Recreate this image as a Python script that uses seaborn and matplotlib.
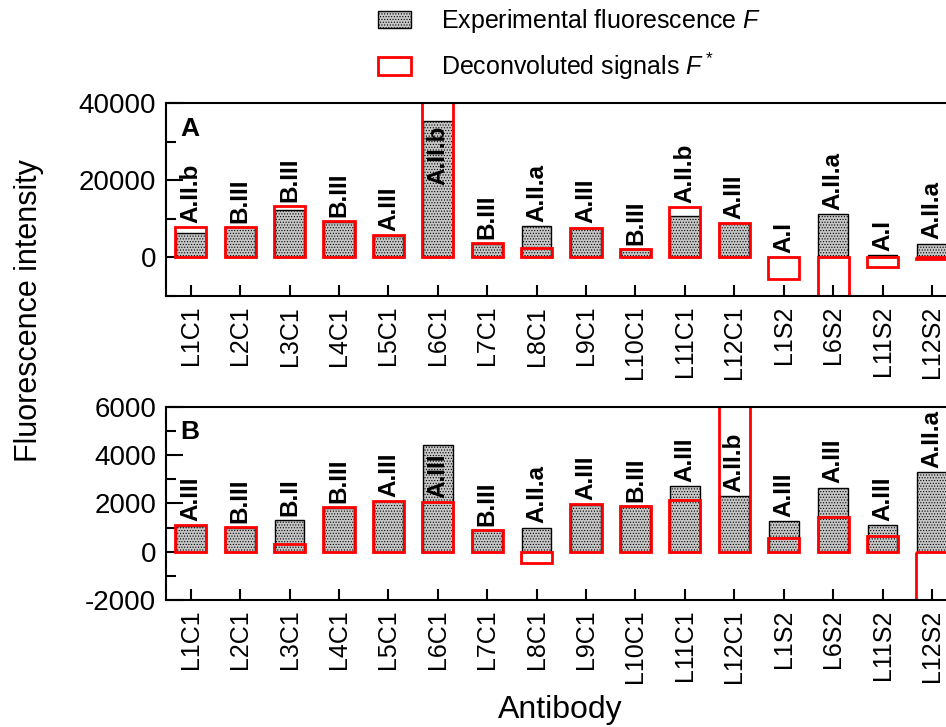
import seaborn as sns
import matplotlib.pyplot as plt
import matplotlib.patches as mpatches
from matplotlib.ticker import MultipleLocator
import pandas as pd

antibodies = ['L1C1', 'L2C1', 'L3C1', 'L4C1', 'L5C1', 'L6C1', 'L7C1', 'L8C1',
              'L9C1', 'L10C1', 'L11C1', 'L12C1', 'L1S2', 'L6S2', 'L11S2', 'L12S2']

# panel A
exp_a = [6400, 7800, 12200, 9300, 5600, 35400, 3600, 8100,
         7700, 2100, 10700, 8900, 0, 11300, 600, 3600]
dec_a = [7800, 7900, 13200, 9400, 5700, 48000, 3700, 2500,
         7750, 2150, 13100, 9000, -5700, -14000, -2400, -400]
cls_a = ['A.II.b', 'B.III', 'B.III', 'B.III', 'A.III', 'A.II.b', 'B.III', 'A.II.a',
         'A.III', 'B.III', 'A.II.b', 'A.III', 'A.I', 'A.II.a', 'A.I', 'A.II.a']

# panel B
exp_b = [1050, 1000, 1300, 1800, 2100, 4420, 900, 1000,
         1950, 1870, 2730, 2290, 1270, 2650, 1100, 3310]
dec_b = [1100, 1030, 300, 1830, 2110, 2060, 910, -470,
         1960, 1880, 2120, 7500, 550, 1420, 630, -3000]
cls_b = ['A.III', 'B.III', 'B.II', 'B.III', 'A.III', 'A.III', 'B.III', 'A.II.a',
         'A.III', 'B.III', 'A.III', 'A.II.b', 'A.III', 'A.III', 'A.III', 'A.II.a']

sns.set_style('ticks')
plt.rcParams['font.family'] = ['Liberation Sans', 'DejaVu Sans']
plt.rcParams['mathtext.fontset'] = 'custom'
plt.rcParams['mathtext.rm'] = 'Liberation Sans'
plt.rcParams['mathtext.it'] = 'Liberation Sans:italic'
plt.rcParams['hatch.linewidth'] = 0.5
plt.rcParams['axes.linewidth'] = 1.5
plt.rcParams['axes.unicode_minus'] = False
for k in ['text.color', 'axes.labelcolor', 'axes.edgecolor', 'xtick.color', 'ytick.color']:
    plt.rcParams[k] = 'black'

GREY = '#c6c6c6'
DOTS = '......'


def label_base(f, fs, lo, hi):
    # put the class label on the highest bar top that leaves room for the text
    room = 0.28 * (hi - lo)
    for v in sorted([f, fs], reverse=True):
        if v + room <= hi:
            return max(v, 0)
    return f / 2


def panel(ax, exp, dec, cls, lo, hi, major, letter):
    df = pd.DataFrame({'antibody': antibodies, 'F': exp, 'Fstar': dec})
    sns.barplot(data=df, x='antibody', y='F', color=GREY, saturation=1,
                width=0.6, edgecolor='black', linewidth=1, errorbar=None, ax=ax)
    for bar in ax.containers[0]:
        bar.set_hatch(DOTS)
    sns.barplot(data=df, x='antibody', y='Fstar', color='red', fill=False,
                width=0.63, linewidth=2, errorbar=None, ax=ax)
    ax.set_ylim(lo, hi)
    ax.set_xlim(-0.5, len(antibodies) - 0.5)
    ax.yaxis.set_major_locator(MultipleLocator(major))
    ax.yaxis.set_minor_locator(MultipleLocator(major / 2))
    ax.tick_params(axis='y', which='major', direction='in', length=12, width=1.5,
                   labelsize=20, pad=7)
    ax.tick_params(axis='y', which='minor', direction='in', length=7, width=1.5)
    ax.tick_params(axis='x', direction='in', length=8, width=1.5, labelsize=18,
                   labelrotation=90, pad=7)
    ax.set_xlabel('')
    ax.set_ylabel('')
    for i, (f, fs, c) in enumerate(zip(exp, dec, cls)):
        ax.annotate(c, (i, label_base(f, fs, lo, hi)), xytext=(0, 3),
                    textcoords='offset points', rotation=90, ha='center',
                    va='bottom', fontsize=17.5, fontweight='bold')
    ax.text(0.018, 0.93, letter, transform=ax.transAxes, fontsize=19,
            fontweight='bold', va='top', ha='left')
    for s in ax.spines.values():
        s.set_linewidth(1.5)


fig = plt.figure(figsize=(9.46, 7.27), dpi=100)
ax_a = fig.add_axes([0.1755, 0.5928, 0.8358, 0.2655])
ax_b = fig.add_axes([0.1755, 0.1747, 0.8358, 0.2659])

panel(ax_a, exp_a, dec_a, cls_a, -10000, 40000, 20000, 'A')
panel(ax_b, exp_b, dec_b, cls_b, -2000, 6000, 2000, 'B')

fig.text(0.031, 0.573, 'Fluorescence intensity', rotation=90, ha='center',
         va='center', fontsize=22)
fig.text(0.592, 0.023, 'Antibody', ha='center', va='center', fontsize=23)

handles = [mpatches.Patch(facecolor=GREY, edgecolor='black', hatch=DOTS, linewidth=1),
           mpatches.Patch(facecolor='none', edgecolor='red', linewidth=2)]
fig.legend(handles, ['Experimental fluorescence $F$', 'Deconvoluted signals $F^*$'],
           loc='upper left', bbox_to_anchor=(0.40, 0.99), frameon=False,
           fontsize=18, handlelength=1.3, handleheight=0.7, handletextpad=1.2,
           labelspacing=0.6, borderpad=0, borderaxespad=0)

fig.savefig('out.png', dpi=100)
